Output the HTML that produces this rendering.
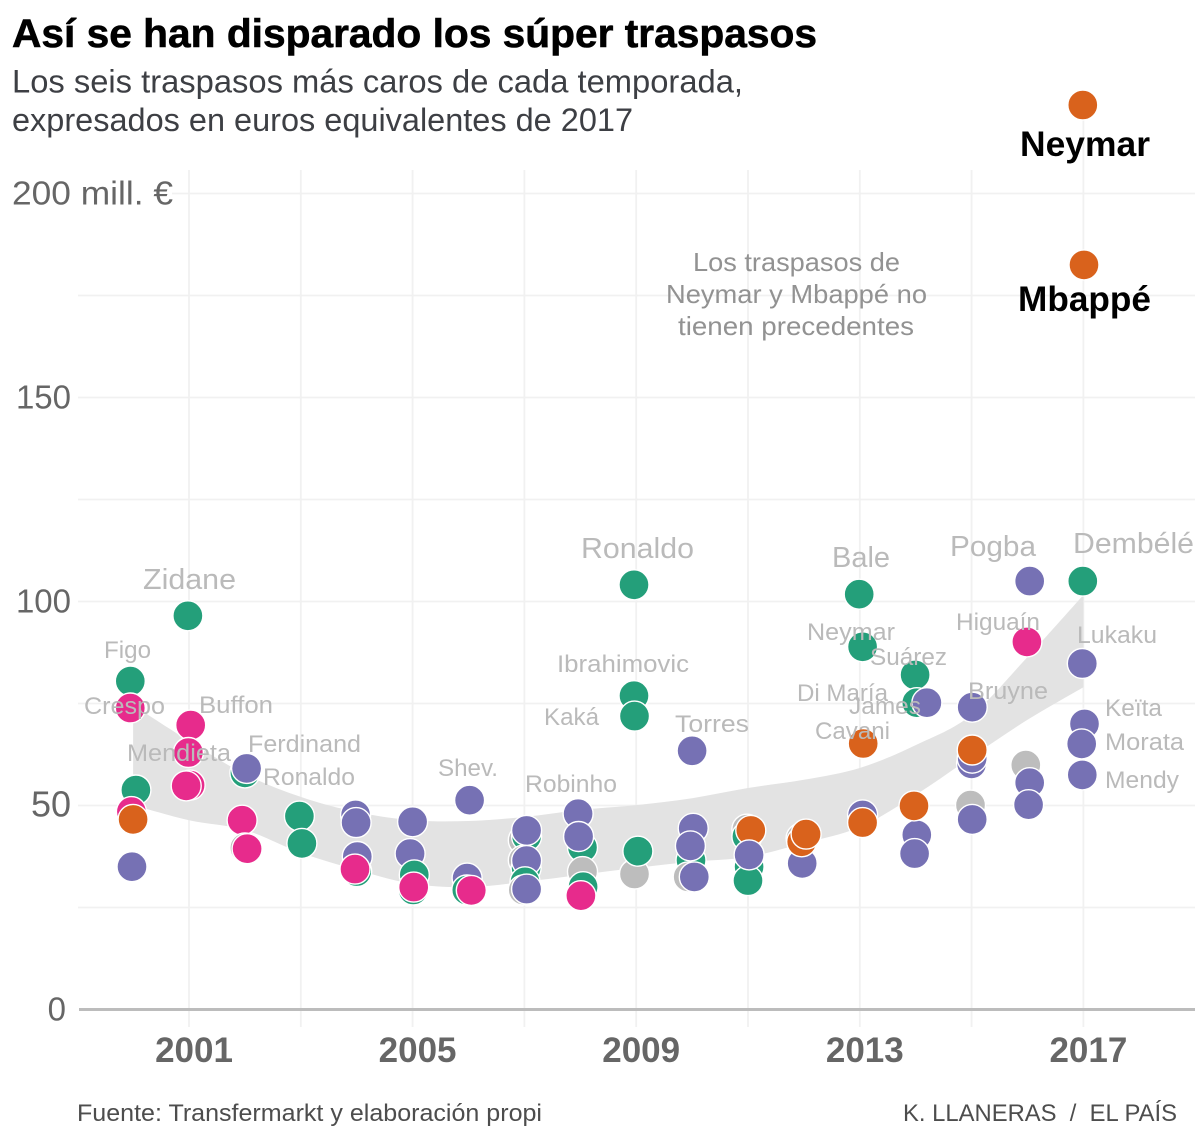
<!DOCTYPE html>
<html lang="es">
<head>
<meta charset="utf-8">
<title>Así se han disparado los súper traspasos</title>
<style>
html,body{margin:0;padding:0;background:#fff;}
svg{display:block;font-family:"Liberation Sans",sans-serif;}
.lab{fill:#bababa;font-size:24px;}
.big{fill:#bababa;font-size:29px;}
.note{fill:#929292;font-size:26px;}
.star{fill:#000;font-size:35px;font-weight:bold;}
</style>
</head>
<body>
<svg id="chart" xmlns="http://www.w3.org/2000/svg" width="1200" height="1134" viewBox="0 0 1200 1134">
  <rect width="1200" height="1134" fill="#fff"/>
  <text x="12" y="47" font-size="40" font-weight="bold" fill="#000" stroke="#000" stroke-width="0.6" textLength="805" lengthAdjust="spacingAndGlyphs">Así se han disparado los súper traspasos</text>
  <text x="12" y="92.5" font-size="32" fill="#3d3f44" textLength="731" lengthAdjust="spacingAndGlyphs">Los seis traspasos más caros de cada temporada,</text>
  <text x="12" y="131" font-size="32" fill="#3d3f44" textLength="621" lengthAdjust="spacingAndGlyphs">expresados en euros equivalentes de 2017</text>
  <g id="grid"></g>
  <g id="band"></g>
  <g id="axes"></g>
  <g id="points"></g>
  <g>
    <text class="big" x="143" y="589" textLength="93" lengthAdjust="spacingAndGlyphs">Zidane</text>
    <text class="lab" x="104" y="658" textLength="47" lengthAdjust="spacingAndGlyphs">Figo</text>
    <text class="lab" x="84" y="714" textLength="81" lengthAdjust="spacingAndGlyphs">Crespo</text>
    <text class="lab" x="199" y="713" textLength="74" lengthAdjust="spacingAndGlyphs">Buffon</text>
    <text class="lab" x="127" y="761" textLength="104" lengthAdjust="spacingAndGlyphs">Mendieta</text>
    <text class="lab" x="248" y="752" textLength="113" lengthAdjust="spacingAndGlyphs">Ferdinand</text>
    <text class="lab" x="263" y="785" textLength="92" lengthAdjust="spacingAndGlyphs">Ronaldo</text>
    <text class="lab" x="438" y="776" textLength="60" lengthAdjust="spacingAndGlyphs">Shev.</text>
    <text class="lab" x="525" y="792" textLength="92" lengthAdjust="spacingAndGlyphs">Robinho</text>
    <text class="lab" x="557" y="672" textLength="132" lengthAdjust="spacingAndGlyphs">Ibrahimovic</text>
    <text class="lab" x="544" y="725" textLength="55" lengthAdjust="spacingAndGlyphs">Kaká</text>
    <text class="lab" x="675" y="732" textLength="74" lengthAdjust="spacingAndGlyphs">Torres</text>
    <text class="big" x="581" y="558" textLength="113" lengthAdjust="spacingAndGlyphs">Ronaldo</text>
    <text class="big" x="832" y="567" textLength="58" lengthAdjust="spacingAndGlyphs">Bale</text>
    <text class="big" x="950" y="556" textLength="86" lengthAdjust="spacingAndGlyphs">Pogba</text>
    <text class="big" x="1073" y="553" textLength="121" lengthAdjust="spacingAndGlyphs">Dembélé</text>
    <text class="lab" x="807" y="640" textLength="88" lengthAdjust="spacingAndGlyphs">Neymar</text>
    <text class="lab" x="956" y="630" textLength="84" lengthAdjust="spacingAndGlyphs">Higuaín</text>
    <text class="lab" x="870" y="665" textLength="77" lengthAdjust="spacingAndGlyphs">Suárez</text>
    <text class="lab" x="1077" y="643" textLength="80" lengthAdjust="spacingAndGlyphs">Lukaku</text>
    <text class="lab" x="797" y="701" textLength="91" lengthAdjust="spacingAndGlyphs">Di María</text>
    <text class="lab" x="849" y="714" textLength="72" lengthAdjust="spacingAndGlyphs">James</text>
    <text class="lab" x="968" y="699" textLength="80" lengthAdjust="spacingAndGlyphs">Bruyne</text>
    <text class="lab" x="815" y="739" textLength="75" lengthAdjust="spacingAndGlyphs">Cavani</text>
    <text class="lab" x="1105" y="716" textLength="57" lengthAdjust="spacingAndGlyphs">Keïta</text>
    <text class="lab" x="1105" y="750" textLength="79" lengthAdjust="spacingAndGlyphs">Morata</text>
    <text class="lab" x="1105" y="788" textLength="74" lengthAdjust="spacingAndGlyphs">Mendy</text>
    <text class="star" x="1020" y="156" textLength="130" lengthAdjust="spacingAndGlyphs">Neymar</text>
    <text class="star" x="1018" y="311" textLength="133" lengthAdjust="spacingAndGlyphs">Mbappé</text>
  </g>
  <g>
    <text class="note" x="693" y="271" textLength="207" lengthAdjust="spacingAndGlyphs">Los traspasos de</text>
    <text class="note" x="666" y="303" textLength="261" lengthAdjust="spacingAndGlyphs">Neymar y Mbappé no</text>
    <text class="note" x="678" y="335" textLength="236" lengthAdjust="spacingAndGlyphs">tienen precedentes</text>
  </g>
  <text x="77" y="1121" font-size="24" fill="#4d4d4d" textLength="465" lengthAdjust="spacingAndGlyphs">Fuente: Transfermarkt y elaboración propi</text>
  <text x="903" y="1121" font-size="24" fill="#4d4d4d" textLength="274" lengthAdjust="spacingAndGlyphs">K. LLANERAS&#160;&#160;/&#160;&#160;EL PAÍS</text>
</svg>
<script>
// Chart data
const gridYears = [2001, 2003, 2005, 2007, 2009, 2011, 2013, 2015, 2017];
const labelYears = [2001, 2005, 2009, 2013, 2017];
const gridValues = [25, 50, 75, 100, 125, 150, 175, 200];
const valueTicks = [0, 50, 100, 150];
const topTickLabel = "200 mill. €";

const bandYears = [2000, 2001, 2002, 2003, 2004, 2005, 2006, 2007, 2008, 2009, 2010, 2011, 2012, 2013, 2014, 2015, 2016, 2017];
const bandHigh = [74.6, 65.8, 57.7, 52.1, 48.4, 46.4, 46.2, 47.2, 48.9, 50.1, 51.8, 54.3, 56.3, 59.2, 64.8, 72.2, 86.4, 101.6];
const bandLow = [50.1, 46.4, 44.0, 38.4, 34.2, 30.8, 30.0, 31.3, 33.0, 34.7, 36.2, 37.4, 40.8, 44.7, 52.6, 61.9, 71.0, 79.0];

// One entry per transfer, in drawing order (season, million euros, position group)
const pointYears = [
  1999.95, 1999.95, 2000.05, 1999.97, 2000.00, 1999.98,
  2000.98, 2001.03, 2000.99, 2001.02, 2000.95,
  2002.00, 2002.03, 2001.95, 2002.00, 2002.04,
  2002.975, 2003.02,
  2003.98, 2003.99, 2004.00, 2004.01, 2003.97,
  2005.00, 2004.955, 2005.03, 2005.01, 2005.02,
  2006.02, 2005.975, 2005.97, 2006.05,
  2006.98, 2007.04, 2007.04, 2006.98, 2007.03, 2007.04, 2007.01, 2006.98, 2007.04,
  2008.04, 2007.96, 2007.97, 2008.04, 2008.05, 2008.01,
  2008.96, 2008.96, 2008.97, 2008.97, 2009.03,
  2010.00, 2010.02, 2009.98, 2009.97, 2009.93, 2010.04,
  2010.98, 2010.98, 2011.05, 2011.02, 2011.00, 2011.02,
  2011.97, 2011.95, 2011.96, 2012.04,
  2012.99, 2013.05, 2013.06, 2013.05, 2013.05,
  2013.99, 2014.02, 2014.20, 2014.02, 2013.98, 2013.97,
  2015.01, 2015.00, 2015.01, 2015.01, 2014.98, 2015.01,
  2016.04, 2015.99, 2015.97, 2016.04, 2016.02,
  2016.99, 2016.98, 2017.02, 2016.97, 2016.98, 2017.01, 2016.99
];
const pointValues = [
  80.5, 73.9, 53.8, 48.5, 46.6, 35.0,
  96.5, 69.7, 63.0, 55.0, 54.8,
  58.0, 59.1, 46.4, 39.6, 39.4,
  47.4, 40.7,
  47.7, 45.8, 33.8, 37.5, 34.4,
  46.0, 38.2, 33.0, 29.3, 30.0,
  51.3, 32.2, 29.3, 29.2,
  41.5, 42.4, 43.9, 36.6, 34.7, 36.5, 31.3, 29.3, 29.5,
  39.7, 48.0, 42.4, 33.8, 30.1, 27.9,
  104.1, 76.9, 71.9, 33.2, 38.8,
  63.4, 44.4, 36.6, 40.1, 32.5, 32.5,
  44.2, 42.4, 43.9, 35.0, 31.6, 37.9,
  35.8, 42.0, 41.1, 43.0,
  101.8, 88.9, 65.2, 47.7, 45.8,
  82.0, 75.2, 75.2, 42.8, 38.2, 49.9,
  74.1, 60.2, 61.6, 63.6, 50.1, 46.6,
  105.0, 90.1, 59.9, 55.6, 50.2,
  105.0, 84.8, 70.0, 65.1, 57.5, 182.5, 221.7
];
const pointGroups = [
  "g", "k", "g", "k", "o", "p",
  "g", "k", "k", "k", "k",
  "g", "p", "k", "x", "k",
  "g", "g",
  "p", "p", "g", "p", "k",
  "p", "p", "g", "g", "k",
  "p", "p", "g", "k",
  "x", "g", "p", "x", "g", "p", "g", "x", "p",
  "g", "p", "p", "x", "g", "k",
  "g", "g", "g", "x", "g",
  "p", "p", "g", "p", "x", "p",
  "x", "g", "o", "g", "g", "p",
  "p", "x", "o", "o",
  "g", "g", "o", "p", "o",
  "g", "g", "p", "p", "p", "o",
  "p", "p", "p", "o", "x", "p",
  "p", "k", "x", "p", "p",
  "g", "p", "p", "p", "p", "o", "o"
];
const groupColors = { g: "#249f7a", p: "#7671b4", k: "#e72b8c", o: "#d9621c", x: "#bdbdbd" };
const groupNames = { g: "forward", p: "midfielder", k: "defender", o: "star", x: "other" };

// Axis functions
function xScale(year) { return 189 + (year - 2001) * 55.9; }
function yScale(value) { return 1009.5 - value * 4.08; }

const NS = "http://www.w3.org/2000/svg";
function make(tag, attrs, parent, txt) {
  const el = document.createElementNS(NS, tag);
  for (const k in attrs) el.setAttribute(k, attrs[k]);
  if (txt !== undefined) el.textContent = txt;
  parent.appendChild(el);
  return el;
}

const grid = document.getElementById("grid");
gridValues.forEach(function (v) {
  const line = make("line", { x1: v === 200 ? 172 : 78, x2: 1195, y1: yScale(v), y2: yScale(v), stroke: "#f1f1f1", "stroke-width": 1.8 }, grid);
  
  
});
gridYears.forEach(function (y) {
  const line = make("line", { x1: xScale(y), x2: xScale(y), y1: y === 2017 ? 105 : 170, y2: 1027, stroke: "#f1f1f1", "stroke-width": 1.8 }, grid);
  
  
});

// Smooth curve through a list of [x, y] vertices (Catmull-Rom to Bezier)
function smooth(list) {
  let d = "";
  for (let i = 0; i < list.length - 1; i++) {
    const a = list[Math.max(i - 1, 0)], b = list[i], c = list[i + 1], e = list[Math.min(i + 2, list.length - 1)];
    d += "C" + (b[0] + (c[0] - a[0]) / 6).toFixed(1) + " " + (b[1] + (c[1] - a[1]) / 6).toFixed(1) + " " +
      (c[0] - (e[0] - b[0]) / 6).toFixed(1) + " " + (c[1] - (e[1] - b[1]) / 6).toFixed(1) + " " +
      c[0].toFixed(1) + " " + c[1].toFixed(1);
  }
  return d;
}
const bandGroup = document.getElementById("band");
const upperEdge = bandYears.map(function (y, i) { return [xScale(y), yScale(bandHigh[i])]; });
const lowerEdge = bandYears.map(function (y, i) { return [xScale(y), yScale(bandLow[i])]; }).reverse();
const bandPath = "M" + upperEdge[0][0].toFixed(1) + " " + upperEdge[0][1].toFixed(1) + smooth(upperEdge) +
  "L" + lowerEdge[0][0].toFixed(1) + " " + lowerEdge[0][1].toFixed(1) + smooth(lowerEdge) + "Z";
const bandShape = make("path", { d: bandPath, fill: "#e3e3e3" }, bandGroup);



const axes = document.getElementById("axes");
const baseline = make("line", { x1: 79, x2: 1195, y1: yScale(0), y2: yScale(0), stroke: "#bcbcbc", "stroke-width": 3 }, axes);


valueTicks.forEach(function (v) {
  const t = make("text", { x: v === 0 ? 66 : 71, y: yScale(v) + 11, "text-anchor": "end", "font-size": v === 50 ? 36 : 33, fill: "#666666" }, axes, String(v));
  
  
});
const topLabel = make("text", { x: 12, y: yScale(200) + 11, "font-size": 33, fill: "#666666", textLength: 161, lengthAdjust: "spacingAndGlyphs" }, axes, topTickLabel);


labelYears.forEach(function (y) {
  const t = make("text", { x: xScale(y) + 5, y: 1062, "text-anchor": "middle", "font-size": 35, "font-weight": "bold", fill: "#666666" }, axes, String(y));
  
  
});

const pts = document.getElementById("points");
pointValues.forEach(function (v, i) {
  const g = pointGroups[i];
  const c = make("circle", { cx: xScale(pointYears[i]).toFixed(1), cy: yScale(v).toFixed(1), r: 15, fill: groupColors[g], stroke: "#ffffff", "stroke-width": 1.4 }, pts);
  
  
});
</script>
</body>
</html>
